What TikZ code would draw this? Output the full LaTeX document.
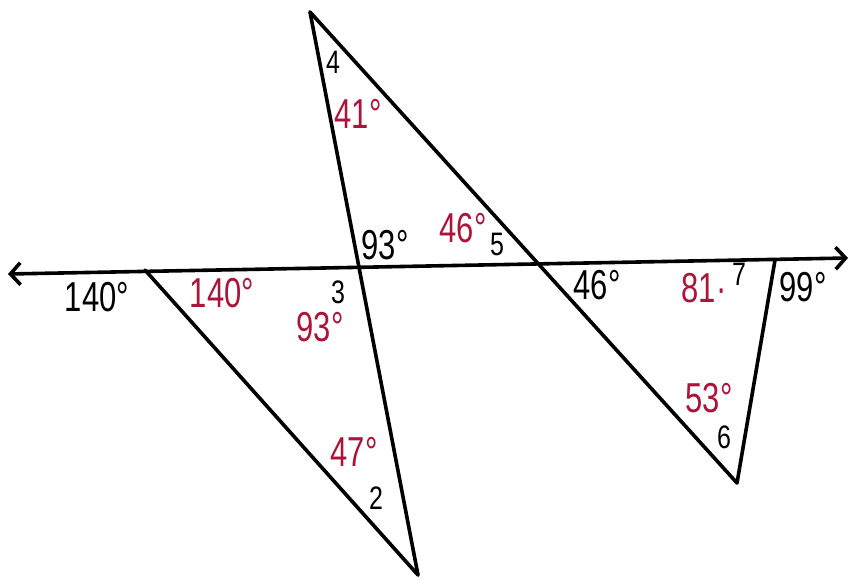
\documentclass[tikz,border=0pt]{standalone}
\usepackage{fontspec}
\setmainfont{Liberation Sans}
\usepackage{graphicx}
\usetikzlibrary{arrows.meta}
\definecolor{hred}{RGB}{172,20,58}
\newcommand{\bigtxt}[1]{\scalebox{1}[1.35]{#1}}
\newcommand{\smtxt}[1]{\scalebox{1}[1.3]{#1}}
\tikzset{
  seg/.style={line width=3.6pt, line cap=round, line join=round},
  blk/.style={inner sep=0pt, text=black, font=\fontsize{31}{32}\selectfont},
  rd/.style={inner sep=0pt, text=hred, font=\fontsize{31}{32}\selectfont},
  sml/.style={inner sep=0pt, text=black, font=\fontsize{25}{27}\selectfont},
}
\begin{document}
\begin{tikzpicture}[x=1pt,y=-1pt]
\useasboundingbox (0,0) rectangle (850,579);
% points
\coordinate (L) at (8,274);
\coordinate (R) at (848,258);
\coordinate (T) at (310,12);
\coordinate (B) at (418,575);
\coordinate (P) at (145,270);
\coordinate (V) at (737,483);
\coordinate (Q) at (775,260);
% lines
\draw[seg, {Straight Barb[length=10pt,width=22pt]}-{Straight Barb[length=10pt,width=22pt]}] (L) -- (R);
\draw[seg] (T) -- (B);
\draw[seg] (T) -- (V);
\draw[seg] (P) -- (B);
\draw[seg] (V) -- (Q);
% labels
\node[blk] (a1) at (97,297) {\bigtxt{140°}};
\node[rd]  (a2) at (222,293) {\bigtxt{140°}};
\node[sml] (n3) at (338,292) {\smtxt{3}};
\node[rd]  (a3) at (320,327) {\bigtxt{93°}};
\node[blk] (a4) at (385,245) {\bigtxt{93°}};
\node[rd]  (a5) at (463,228) {\bigtxt{46°}};
\node[sml] (n5) at (497,244) {\smtxt{5}};
\node[sml] (n4) at (333,62) {\smtxt{4}};
\node[rd]  (a6) at (358,114) {\bigtxt{41°}};
\node[blk] (a7) at (597,285) {\bigtxt{46°}};
\node[rd]  (a8) at (704,288) {\bigtxt{81·}};
\node[sml] (n7) at (739,274) {\smtxt{7}};
\node[blk] (a9) at (803,287) {\bigtxt{99°}};
\node[rd]  (a10) at (709,398) {\bigtxt{53°}};
\node[sml] (n6) at (724,437) {\smtxt{6}};
\node[rd]  (a11) at (354,452) {\bigtxt{47°}};
\node[sml] (n2) at (376,498) {\smtxt{2}};
\end{tikzpicture}
\end{document}
